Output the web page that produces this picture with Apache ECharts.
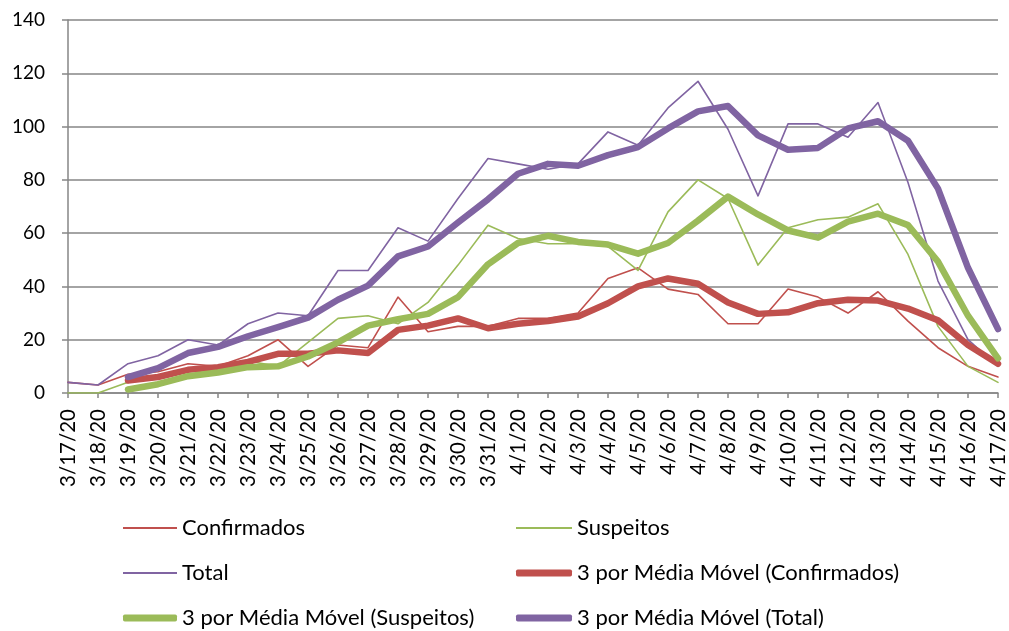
<!DOCTYPE html>
<html>
<head>
<meta charset="utf-8">
<title>Casos</title>
<script src="https://cdn.jsdelivr.net/npm/echarts@6/dist/echarts.min.js"></script>
<style>
  html, body { margin: 0; padding: 0; background: #fff; }
  #chart { width: 1009px; height: 631px; }
</style>
</head>
<body>
<div id="chart"></div>
<script>
const dates = [
  '3/17/20', '3/18/20', '3/19/20', '3/20/20', '3/21/20', '3/22/20', '3/23/20', '3/24/20',
  '3/25/20', '3/26/20', '3/27/20', '3/28/20', '3/29/20', '3/30/20', '3/31/20',
  '4/1/20', '4/2/20', '4/3/20', '4/4/20', '4/5/20', '4/6/20', '4/7/20', '4/8/20',
  '4/9/20', '4/10/20', '4/11/20', '4/12/20', '4/13/20', '4/14/20', '4/15/20', '4/16/20', '4/17/20'
]
const confirmados = [4, 3, 7, 8, 11, 10, 14, 20, 10, 18, 17, 36, 23, 25, 25,
  28, 28, 30, 43, 47, 39, 37, 26, 26, 39, 36, 30, 38, 27, 17, 10, 6]
const suspeitos = [0, 0, 4, 6, 9, 8, 12, 10, 19, 28, 29, 26, 34, 48, 63,
  58, 56, 56, 55, 46, 68, 80, 73, 48, 62, 65, 66, 71, 52, 25, 10, 4]
const total = [4, 3, 11, 14, 20, 18, 26, 30, 29, 46, 46, 62, 57, 73, 88,
  86, 84, 86, 98, 93, 107, 117, 99, 74, 101, 101, 96, 109, 79, 42, 20, 10]
// 3 por média móvel
const mmConfirmados = [null, null, 4.7, 6, 8.7, 9.7, 11.7, 14.7, 14.7, 16, 15, 23.7, 25.3, 28, 24.3,
  26, 27, 28.7, 33.7, 40, 43, 41, 34, 29.7, 30.3, 33.7, 35, 34.7, 31.7, 27.3, 18, 11]
const mmSuspeitos = [null, null, 1.3, 3.3, 6.3, 7.7, 9.7, 10, 13.7, 19, 25.3, 27.7, 29.7, 36, 48.3,
  56.3, 59, 56.7, 55.7, 52.3, 56.3, 64.7, 73.7, 67, 61, 58.3, 64.3, 67.3, 63, 49.3, 29, 13]
const mmTotal = [null, null, 6, 9.3, 15, 17.3, 21.3, 24.7, 28.3, 35, 40.3, 51.3, 55, 64, 72.7,
  82.3, 86, 85.3, 89.3, 92.3, 99.3, 105.7, 107.7, 96.7, 91.3, 92, 99.3, 102, 94.7, 76.7, 47, 24]
const yTicks = [0, 20, 40, 60, 80, 100, 120, 140]

const RED = '#c0504d'
const GREEN = '#9bbb59'
const PURPLE = '#8064a2'
const FONT = 'Lato, "Liberation Sans", sans-serif'

function line(name, data, color, width, z) {
  return {
    name: name,
    type: 'line',
    data: data,
    symbol: 'none',
    z: z,
    animation: false,
    lineStyle: { color: color, width: width, cap: 'round', join: 'round' },
    itemStyle: { color: color }
  }
}

// one legend per entry, laid out as a 2-column grid
function legendItem(name, left, top, thick) {
  return {
    left: left,
    top: top,
    padding: 0,
    itemWidth: left < 300 ? 54 : 56,
    itemHeight: thick ? 7 : 2,
    icon: thick ? 'roundRect' : 'rect',
    textStyle: { fontSize: 22, color: '#000', fontFamily: FONT },
    data: [name]
  }
}

const chart = echarts.init(document.getElementById('chart'))
chart.setOption({
  backgroundColor: '#fff',
  textStyle: { fontFamily: FONT },
  grid: { left: 68, right: 11, top: 20, bottom: 238 },
  legend: [
    legendItem('Confirmados', 123, 517, false),
    legendItem('Suspeitos', 516, 517, false),
    legendItem('Total', 123, 562, false),
    legendItem('3 por Média Móvel (Confirmados)', 516, 562, true),
    legendItem('3 por Média Móvel (Suspeitos)', 123, 607, true),
    legendItem('3 por Média Móvel (Total)', 516, 607, true)
  ],
  xAxis: {
    type: 'category',
    data: dates,
    boundaryGap: false,
    axisLine: { lineStyle: { color: '#868686', width: 1.5 } },
    axisTick: { length: 5, lineStyle: { color: '#868686', width: 1.5 } },
    axisLabel: { rotate: 90, interval: 0, fontSize: 20.5, color: '#000', margin: 16, fontFamily: FONT },
    splitLine: { show: false }
  },
  yAxis: {
    type: 'value',
    min: yTicks[0],
    max: yTicks[yTicks.length - 1],
    interval: 20,
    axisLine: { show: true, lineStyle: { color: '#868686', width: 1.5 } },
    axisTick: { show: true, length: 6, lineStyle: { color: '#868686', width: 1.5 } },
    axisLabel: { fontSize: 19, color: '#000', margin: 23, fontFamily: FONT },
    splitLine: { lineStyle: { color: '#868686', width: 1.5 } }
  },
  series: [
    line('Confirmados', confirmados, RED, 1.6, 5),
    line('Suspeitos', suspeitos, GREEN, 1.6, 5),
    line('Total', total, PURPLE, 1.6, 5),
    line('3 por Média Móvel (Confirmados)', mmConfirmados, RED, 6.5, 6),
    line('3 por Média Móvel (Suspeitos)', mmSuspeitos, GREEN, 6.5, 6),
    line('3 por Média Móvel (Total)', mmTotal, PURPLE, 6.5, 6)
  ]
})
</script>
</body>
</html>
